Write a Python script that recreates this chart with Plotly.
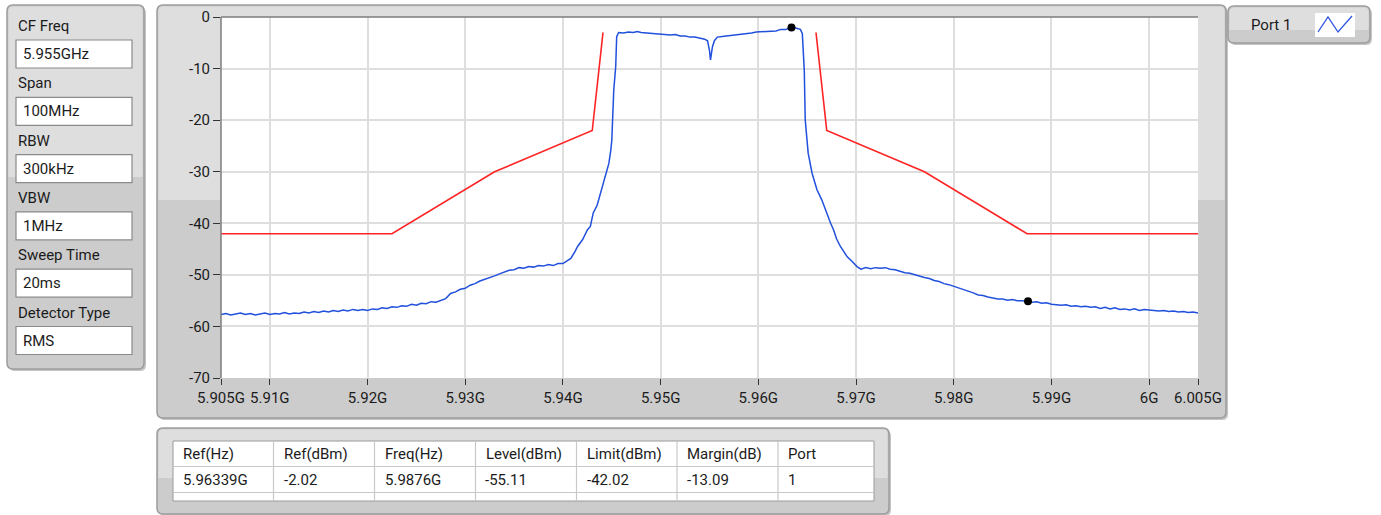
import plotly.graph_objects as go

# ---------------- data ----------------
BLUE_FREQ_GHZ = [
    5.9050, 5.9055, 5.9060, 5.9065, 5.9070, 5.9075, 5.9080, 5.9085, 5.9090, 5.9095,
    5.9100, 5.9105, 5.9110, 5.9115, 5.9120, 5.9125, 5.9130, 5.9135, 5.9140, 5.9145,
    5.9150, 5.9155, 5.9160, 5.9165, 5.9170, 5.9175, 5.9180, 5.9185, 5.9190, 5.9195,
    5.9200, 5.9205, 5.9210, 5.9215, 5.9220, 5.9225, 5.9230, 5.9235, 5.9240, 5.9245,
    5.9250, 5.9255, 5.9260, 5.9265, 5.9270, 5.9275, 5.9280, 5.9285, 5.9290, 5.9295,
    5.9300, 5.9305, 5.9310, 5.9315, 5.9320, 5.9325, 5.9330, 5.9335, 5.9340, 5.9345,
    5.9350, 5.9355, 5.9360, 5.9365, 5.9370, 5.9375, 5.9380, 5.9385, 5.9390, 5.9395,
    5.9400, 5.9405, 5.9408, 5.9412, 5.9415, 5.9420, 5.9425, 5.9428, 5.9431, 5.9435,
    5.9438, 5.9441, 5.9444, 5.9447, 5.9449, 5.9450, 5.9452, 5.9454, 5.9455, 5.9457,
    5.9462, 5.9467, 5.9472, 5.9476, 5.9480, 5.9485, 5.9490, 5.9495, 5.9500, 5.9505,
    5.9510, 5.9515, 5.9520, 5.9525, 5.9530, 5.9535, 5.9540, 5.9545, 5.9548, 5.9550,
    5.9551, 5.9553, 5.9555, 5.9558, 5.9563, 5.9568, 5.9573, 5.9578, 5.9583, 5.9588,
    5.9593, 5.9598, 5.9603, 5.9608, 5.9613, 5.9618, 5.9623, 5.9628, 5.9631, 5.96339,
    5.9637, 5.9640, 5.9643, 5.9645, 5.9646, 5.9647, 5.9648, 5.9651, 5.9655, 5.9660,
    5.9665, 5.9670, 5.9674, 5.9677, 5.9680, 5.9684, 5.9688, 5.9691, 5.9696, 5.9701,
    5.9705, 5.9710, 5.9715, 5.9720, 5.9725, 5.9730, 5.9735, 5.9740, 5.9745, 5.9750,
    5.9755, 5.9760, 5.9765, 5.9770, 5.9775, 5.9780, 5.9785, 5.9790, 5.9795, 5.9800,
    5.9805, 5.9810, 5.9815, 5.9820, 5.9825, 5.9830, 5.9835, 5.9840, 5.9845, 5.9850,
    5.9855, 5.9860, 5.9865, 5.9870, 5.9876, 5.9880, 5.9885, 5.9890, 5.9895, 5.9900,
    5.9905, 5.9910, 5.9915, 5.9920, 5.9925, 5.9930, 5.9935, 5.9940, 5.9945, 5.9950,
    5.9955, 5.9960, 5.9965, 5.9970, 5.9975, 5.9980, 5.9985, 5.9990, 5.9995, 6.0000,
    6.0005, 6.0010, 6.0015, 6.0020, 6.0025, 6.0030, 6.0035, 6.0040, 6.0045, 6.0050,
]
BLUE_LEVEL_DBM = [
    -57.7, -57.5, -57.8, -57.6, -57.4, -57.7, -57.5, -57.8, -57.6, -57.4,
    -57.7, -57.5, -57.6, -57.3, -57.6, -57.4, -57.5, -57.2, -57.4, -57.1,
    -57.3, -57.0, -57.2, -56.9, -57.1, -56.8, -57.0, -56.7, -56.9, -56.7,
    -56.9, -56.6, -56.7, -56.4, -56.5, -56.2, -56.3, -56.0, -56.1, -55.7,
    -55.9, -55.5, -55.6, -55.2, -55.3, -54.9, -54.6, -53.6, -53.3, -52.8,
    -52.6, -52.0, -51.7, -51.2, -50.9, -50.5, -50.2, -49.8, -49.4, -49.1,
    -49.0, -48.6, -48.7, -48.4, -48.5, -48.2, -48.3, -48.0, -48.2, -47.8,
    -47.8, -47.2, -46.8, -45.6, -44.5, -43.2, -41.3, -40.6, -38.0, -36.5,
    -34.5, -32.2, -30.3, -28.4, -25.8, -23.9, -14.2, -9.6, -3.8, -3.0,
    -3.1, -2.9, -3.0, -2.8, -3.0, -3.1, -3.1, -3.3, -3.3, -3.4,
    -3.5, -3.4, -3.7, -3.7, -3.9, -3.9, -4.1, -4.3, -4.6, -6.5,
    -8.3, -5.8, -4.6, -3.9, -3.8, -3.7, -3.6, -3.5, -3.3, -3.3,
    -3.1, -2.9, -2.85, -2.8, -2.7, -2.7, -2.4, -2.4, -2.2, -2.02,
    -2.1, -2.2, -2.4, -3.2, -6.4, -10.3, -20.0, -26.4, -30.3, -33.5,
    -35.5, -38.1, -40.0, -41.3, -43.0, -44.5, -45.6, -46.5, -47.4, -48.4,
    -48.9, -48.6, -48.8, -48.6, -48.7, -48.6, -48.9, -49.0, -49.3, -49.6,
    -49.7, -50.0, -50.2, -50.5, -50.7, -51.1, -51.3, -51.7, -51.9, -52.2,
    -52.6, -52.9, -53.2, -53.5, -53.9, -54.0, -54.3, -54.5, -54.7, -54.7,
    -54.9, -54.8, -55.0, -55.0, -55.11, -55.3, -55.2, -55.5, -55.4, -55.7,
    -55.8, -55.9, -55.8, -56.1, -56.0, -56.2, -56.1, -56.3, -56.2, -56.5,
    -56.3, -56.6, -56.4, -56.7, -56.6, -56.8, -56.6, -56.9, -56.7, -56.8,
    -56.9, -57.0, -56.9, -57.1, -57.0, -57.2, -57.1, -57.3, -57.2, -57.4,
]

LIMIT_FREQ_GHZ = [5.905, 5.9225, 5.933, 5.943, 5.9441, None,
                  5.9659, 5.967, 5.977, 5.9875, 6.005]
LIMIT_LEVEL_DBM = [-42.02, -42.02, -30.02, -22.02, -3.0, None,
                   -3.0, -22.02, -30.02, -42.02, -42.02]

MARKER_FREQ_GHZ = [5.96339, 5.9876]
MARKER_LEVEL_DBM = [-2.02, -55.11]

X_TICK_VALS = [5.905, 5.91, 5.92, 5.93, 5.94, 5.95, 5.96, 5.97, 5.98, 5.99, 6.0, 6.005]
X_TICK_TEXT = ["5.905G", "5.91G", "5.92G", "5.93G", "5.94G", "5.95G", "5.96G",
               "5.97G", "5.98G", "5.99G", "6G", "6.005G"]
Y_TICK_VALS = [0, -10, -20, -30, -40, -50, -60, -70]
Y_TICK_TEXT = ["0", "-10", "-20", "-30", "-40", "-50", "-60", "-70"]

SETTING_LABELS = ["CF Freq", "Span", "RBW", "VBW", "Sweep Time", "Detector Type"]
SETTING_VALUES = ["5.955GHz", "100MHz", "300kHz", "1MHz", "20ms", "RMS"]

TABLE_HEADERS = ["Ref(Hz)", "Ref(dBm)", "Freq(Hz)", "Level(dBm)", "Limit(dBm)", "Margin(dB)", "Port"]
TABLE_ROW = ["5.96339G", "-2.02", "5.9876G", "-55.11", "-42.02", "-13.09", "1"]

LEGEND_NAME = "Port 1"

# ---------------- layout helpers ----------------
W, H = 1381, 515
FONT = "Roboto"
TXT = "#1b1b1b"


def X(px):
    return px / W


def Y(py):
    return 1 - py / H


shapes = []
annotations = []


def rrect(x0, y0, x1, y1, r, fill, line="rgba(0,0,0,0)", lw=1, layer="below"):
    p = (f"M{X(x0 + r)},{Y(y0)} L{X(x1 - r)},{Y(y0)} Q{X(x1)},{Y(y0)} {X(x1)},{Y(y0 + r)} "
         f"L{X(x1)},{Y(y1 - r)} Q{X(x1)},{Y(y1)} {X(x1 - r)},{Y(y1)} "
         f"L{X(x0 + r)},{Y(y1)} Q{X(x0)},{Y(y1)} {X(x0)},{Y(y1 - r)} "
         f"L{X(x0)},{Y(y0 + r)} Q{X(x0)},{Y(y0)} {X(x0 + r)},{Y(y0)} Z")
    shapes.append(dict(type="path", xref="paper", yref="paper", path=p,
                       fillcolor=fill, line=dict(color=line, width=lw), layer=layer))


def rect(x0, y0, x1, y1, fill, line="rgba(0,0,0,0)", lw=1, layer="below"):
    shapes.append(dict(type="rect", xref="paper", yref="paper",
                       x0=X(x0), x1=X(x1), y0=Y(y1), y1=Y(y0),
                       fillcolor=fill, line=dict(color=line, width=lw), layer=layer))


def hline(x0, x1, y, color, lw=1, layer="below"):
    shapes.append(dict(type="line", xref="paper", yref="paper",
                       x0=X(x0), x1=X(x1), y0=Y(y), y1=Y(y),
                       line=dict(color=color, width=lw), layer=layer))


def vline(x, y0, y1, color, lw=1, layer="below"):
    shapes.append(dict(type="line", xref="paper", yref="paper",
                       x0=X(x), x1=X(x), y0=Y(y0), y1=Y(y1),
                       line=dict(color=color, width=lw), layer=layer))


def text(x, y, s, size=15, anchor="left"):
    annotations.append(dict(xref="paper", yref="paper", x=X(x), y=Y(y), text=s,
                            showarrow=False, xanchor=anchor, yanchor="middle",
                            font=dict(family=FONT, size=size, color=TXT)))


LIGHT = "#dedede"
DARK = "#cccccc"
BORDER = "#9c9c9c"


def panel(x0, y0, x1, y1, split):
    rrect(x0 + 2, y0 + 2, x1 + 2, y1 + 2, 6, "#c4c4c4")          # shadow
    rrect(x0, y0, x1, y1, 6, DARK, BORDER, 1.5)
    rrect(x0 + 1.5, y0 + 1.5, x1 - 1.5, split, 5, LIGHT)
    rect(x0 + 1.5, split - 6, x1 - 1.5, split, LIGHT)

# left settings panel
panel(7, 5, 144, 369, 177)
for i, (lab, val) in enumerate(zip(SETTING_LABELS, SETTING_VALUES)):
    ly = 26 + i * 57.3
    by = 40 + i * 57.3
    text(16, ly, lab)
    rect(16, by, 132, by + 28, "#ffffff", "#8a8a8a", 1.2)
    text(21, by + 14, val)

# graph panel
panel(157, 5, 1226, 418, 200)
rect(221, 17, 1198, 378, "#ffffff")
# legend panel
panel(1228, 6, 1370, 43, 30)
text(1249, 25, LEGEND_NAME)
rect(1315, 13, 1355, 37, "#ffffff")
shapes.append(dict(type="path", xref="paper", yref="paper",
                   path=f"M{X(1318)},{Y(32)} L{X(1328)},{Y(17)} L{X(1338)},{Y(32)} L{X(1352)},{Y(16)}",
                   line=dict(color="#2f55e0", width=1.3), layer="above"))

# table panel
panel(157, 428, 889, 514, 478)
rect(173, 441, 874, 501, "#ffffff", "#9a9a9a", 1)
COL_X = [173, 273.5, 374.5, 475.5, 576.5, 677, 778, 874]
hline(173, 874, 466.5, "#c8c8c8", 1.2)
hline(173, 874, 492.5, "#c8c8c8", 1.2)
for cx in COL_X[1:-1]:
    vline(cx, 441, 501, "#c8c8c8", 1.2)
for i in range(7):
    text(COL_X[i] + 8, 453.5, TABLE_HEADERS[i])
    text(COL_X[i] + 8, 479.5, TABLE_ROW[i])

# plot frame (inset edges)
vline(221, 17, 378, "#7d7d7d", 1.5, layer="above")
hline(221, 1198, 17, "#7d7d7d", 1.5, layer="above")

# ---------------- figure ----------------
fig = go.Figure()
fig.add_trace(go.Scatter(x=LIMIT_FREQ_GHZ, y=LIMIT_LEVEL_DBM, mode="lines",
                         line=dict(color="#ff2424", width=1.6), connectgaps=False,
                         hoverinfo="skip", showlegend=False))
fig.add_trace(go.Scatter(x=BLUE_FREQ_GHZ, y=BLUE_LEVEL_DBM, mode="lines",
                         line=dict(color="#2150dc", width=1.5), name=LEGEND_NAME,
                         showlegend=False))
fig.add_trace(go.Scatter(x=MARKER_FREQ_GHZ, y=MARKER_LEVEL_DBM, mode="markers",
                         marker=dict(color="#000000", size=8), showlegend=False))

axis_font = dict(family=FONT, size=15, color=TXT)
fig.update_layout(
    width=W, height=H, autosize=False,
    margin=dict(l=0, r=0, t=0, b=0),
    paper_bgcolor="#ffffff", plot_bgcolor="rgba(0,0,0,0)",
    showlegend=False,
    shapes=shapes, annotations=annotations,
    xaxis=dict(domain=[X(221), X(1198)], range=[5.905, 6.005], automargin=False,
               tickvals=X_TICK_VALS, ticktext=X_TICK_TEXT,
               ticks="outside", ticklen=6, tickwidth=1.2, tickcolor="#333333",
               showgrid=True, gridcolor="#dedede", gridwidth=1.5,
               zeroline=False, showline=False, tickfont=axis_font, tickangle=0,
               fixedrange=True),
    yaxis=dict(domain=[Y(378), Y(17)], range=[-70, 0], automargin=False,
               tickvals=Y_TICK_VALS, ticktext=Y_TICK_TEXT,
               ticks="outside", ticklen=7, tickwidth=1.2, tickcolor="#333333",
               showgrid=True, gridcolor="#dedede", gridwidth=1.5,
               zeroline=False, showline=False, tickfont=axis_font,
               fixedrange=True),
)

fig.write_html("out.html", config={"displayModeBar": False},
               post_script="document.body.style.margin='0';document.body.style.overflow='hidden';")
